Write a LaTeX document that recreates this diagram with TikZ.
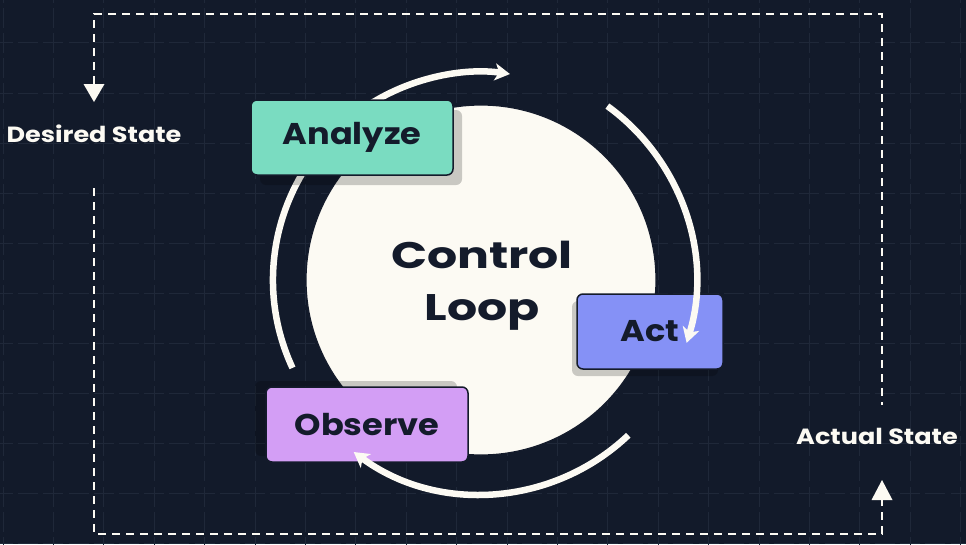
\documentclass[tikz,border=0pt]{standalone}
\usepackage{fontspec}
\setmainfont{Poppins}
\newfontfamily\dispfont{Poppins}[FakeStretch=1.12]
\newfontfamily\lblfont{Poppins}[FakeStretch=1.16]
\newfontfamily\titlefont{Poppins}[FakeStretch=1.28]
\usetikzlibrary{arrows.meta}
\definecolor{bg}{HTML}{121A2A}
\definecolor{gridc}{HTML}{1F2839}
\definecolor{cream}{HTML}{FCFAF3}
\definecolor{ink}{HTML}{141B2B}
\definecolor{mint}{HTML}{7ADCC1}
\definecolor{periw}{HTML}{8591F6}
\definecolor{lilac}{HTML}{D39EF5}
\begin{document}
\begin{tikzpicture}[x=1pt,y=-1pt,
  gridline/.style={gridc, line width=1pt, dash pattern=on 20pt off 5.2pt},
  framedash/.style={cream, line width=2pt, dash pattern=on 8pt off 6pt},
  stepbox/.style={draw=ink, line width=1.5pt, rounded corners=6pt,
    minimum width=202pt, minimum height=75pt, inner sep=0pt, text=ink,
    font=\dispfont\bfseries\fontsize{30}{36}\selectfont},
  shade/.style={fill=black, fill opacity=0.2, rounded corners=6pt},
  loopline/.style={cream, line width=6.5pt, -{Stealth[length=15pt, width=17pt, inset=4pt]}},
  lbl/.style={text=cream, font=\lblfont\bfseries\fontsize{22}{26}\selectfont},
  tri/.style={fill=cream}
]
\useasboundingbox (0,0) rectangle (966,544);
\clip (0,0) rectangle (966,544);
\fill[bg] (0,0) rectangle (966,544);
% grid
\foreach \i in {0,...,19} { \draw[gridline] (3+50.4*\i,-17.5) -- (3+50.4*\i,560); }
\foreach \j in {0,...,10} { \draw[gridline] (-57.4,42.9+50.1*\j) -- (1000,42.9+50.1*\j); }
% labels
\node[lbl] (desired) at (94,134) {Desired State};
\node[lbl] (actual) at (877,436) {Actual State};
% frame
\coordinate (tl) at (94,14);
\coordinate (tr) at (882,14);
\coordinate (bl) at (94,534);
\coordinate (br) at (882,534);
\coordinate (dtip) at (94,102);
\coordinate (dbase) at (94,84);
\coordinate (utip) at (882,480);
\coordinate (ubase) at (882,500);
\coordinate (lres) at (94,188);
\coordinate (rend) at (882,405);
\draw[framedash] (dbase) -- (tl) -- (tr) -- (rend);
\draw[framedash] (lres) -- (bl) -- (br) -- (ubase);
\fill[tri] (dtip) -- ++(-10.5,-18) -- ++(21,0) -- cycle;
\fill[tri] (utip) -- ++(-10.5,20) -- ++(21,0) -- cycle;
% core circle
\node[circle, fill=cream, draw=ink, line width=1.2pt, minimum size=350pt, inner sep=0pt] (core) at (481,280) {};
\node[text=ink, align=center, font=\titlefont\bfseries\fontsize{37}{52}\selectfont] (title) at (482,286) {Control\\Loop};
% left/top arc (behind Analyze)
\draw[loopline] ([shift={(155:208)}]core.center) arc[start angle=155, end angle=278, radius=208];
% shadows
\fill[shade] (260,110) rectangle (462,185);
\fill[shade] (572,301) rectangle (718,376);
\fill[shade] (255,381) rectangle (457,456);
% boxes
\node[stepbox, fill=mint] (analyze) at (352,137.5) {Analyze};
\node[stepbox, fill=periw, minimum width=146pt] (act) at (650,331.5) {Act};
\node[stepbox, fill=lilac] (observe) at (367,424.5) {Observe};
% arcs over boxes
\draw[loopline] ([shift={(306:215)}]core.center) arc[start angle=306, end angle=377, radius=215];
\draw[loopline] ([shift={(46.5:214)}]core.center) arc[start angle=46.5, end angle=126.5, radius=214];
\end{tikzpicture}
\end{document}
